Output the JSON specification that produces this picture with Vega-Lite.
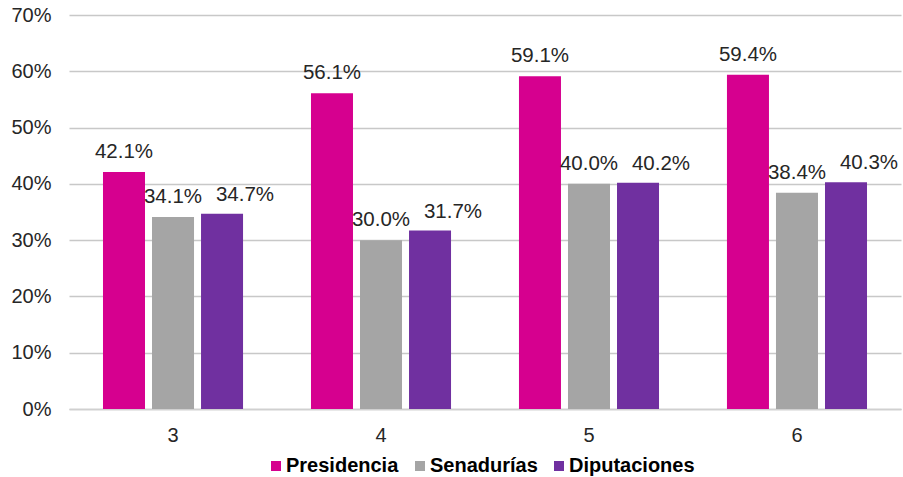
{
  "$schema": "https://vega.github.io/schema/vega-lite/v6.json",
  "autosize": "none",
  "width": 832,
  "height": 394,
  "padding": {"left": 69, "top": 15, "right": 2, "bottom": 68},
  "background": "white",
  "config": {
    "view": {"stroke": null},
    "font": "Liberation Sans"
  },
  "data": {
    "values": [
      {"grupo": "3", "serie": "Presidencia", "valor": 0.421},
      {"grupo": "3", "serie": "Senadurías", "valor": 0.341},
      {"grupo": "3", "serie": "Diputaciones", "valor": 0.347},
      {"grupo": "4", "serie": "Presidencia", "valor": 0.561},
      {"grupo": "4", "serie": "Senadurías", "valor": 0.300},
      {"grupo": "4", "serie": "Diputaciones", "valor": 0.317},
      {"grupo": "5", "serie": "Presidencia", "valor": 0.591},
      {"grupo": "5", "serie": "Senadurías", "valor": 0.400},
      {"grupo": "5", "serie": "Diputaciones", "valor": 0.402},
      {"grupo": "6", "serie": "Presidencia", "valor": 0.594},
      {"grupo": "6", "serie": "Senadurías", "valor": 0.384},
      {"grupo": "6", "serie": "Diputaciones", "valor": 0.403}
    ]
  },
  "encoding": {
    "x": {
      "field": "grupo", "type": "nominal",
      "scale": {"paddingInner": 0.293, "paddingOuter": 0.1466},
      "axis": {
        "title": null, "labelAngle": 0, "ticks": false,
        "domainColor": "#D0D0D0", "domainWidth": 1.5,
        "labelFontSize": 20, "labelColor": "#262626", "labelPadding": 16
      }
    },
    "xOffset": {
      "field": "serie", "type": "nominal",
      "sort": ["Presidencia", "Senadurías", "Diputaciones"],
      "scale": {"paddingInner": 0.143, "paddingOuter": 0.0714}
    },
    "y": {
      "field": "valor", "type": "quantitative",
      "scale": {"domain": [0, 0.7]},
      "axis": {
        "title": null, "values": [0, 0.1, 0.2, 0.3, 0.4, 0.5, 0.6, 0.7],
        "format": ".0%",
        "domain": false, "ticks": false,
        "gridColor": "#C8C8C8", "gridWidth": 1.5,
        "labelFontSize": 20, "labelColor": "#262626", "labelPadding": 18
      }
    }
  },
  "layer": [
    {
      "mark": {"type": "bar"},
      "encoding": {
        "color": {
          "field": "serie", "type": "nominal",
          "sort": ["Presidencia", "Senadurías", "Diputaciones"],
          "scale": {
            "domain": ["Presidencia", "Senadurías", "Diputaciones"],
            "range": ["#D6008F", "#A5A5A5", "#7030A0"]
          },
          "legend": {
            "title": null, "orient": "none", "direction": "horizontal",
            "legendX": 197, "legendY": 441,
            "symbolType": "square", "symbolSize": 100, "symbolStrokeWidth": 0,
            "labelFontSize": 20, "labelFontWeight": "bold", "labelColor": "#000000",
            "columnPadding": 11, "labelOffset": 0
          }
        }
      }
    },
    {
      "transform": [{"filter": "datum.serie !== 'Diputaciones'"}],
      "mark": {"type": "text", "baseline": "alphabetic", "dy": -14, "fontSize": 20.5, "color": "#262626"},
      "encoding": {
        "text": {"field": "valor", "type": "quantitative", "format": ".1%"},
        "detail": {"field": "serie"}
      }
    },
    {
      "transform": [{"filter": "datum.serie === 'Diputaciones'"}],
      "mark": {"type": "text", "baseline": "alphabetic", "dy": -13, "dx": 23, "fontSize": 20.5, "color": "#262626"},
      "encoding": {
        "text": {"field": "valor", "type": "quantitative", "format": ".1%"},
        "detail": {"field": "serie"}
      }
    }
  ]
}
